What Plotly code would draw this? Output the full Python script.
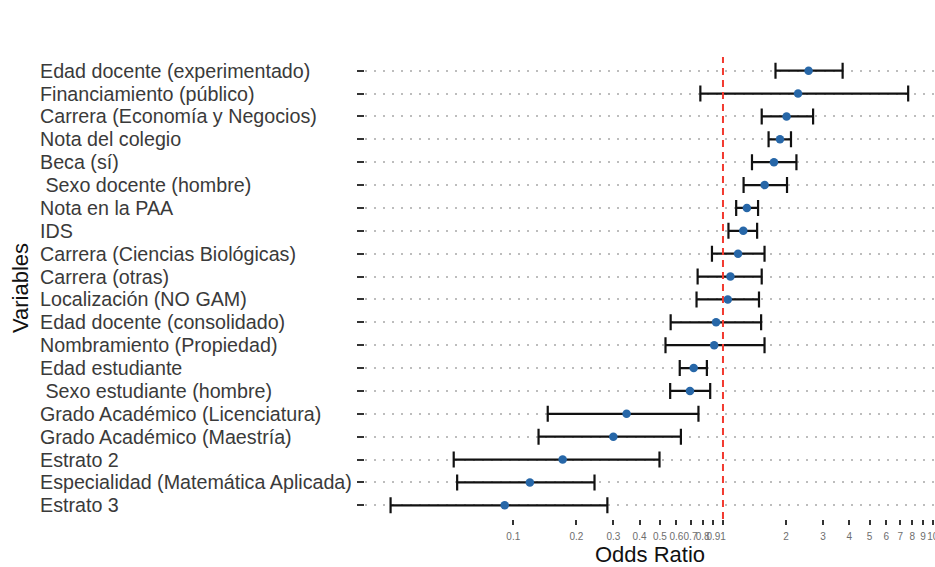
import plotly.graph_objects as go

# Predictors, ordered from top to bottom of the forest plot
variables = [
    "Edad docente (experimentado)",
    "Financiamiento (público)",
    "Carrera (Economía y Negocios)",
    "Nota del colegio",
    "Beca (sí)",
    "\u00a0Sexo docente (hombre)",
    "Nota en la PAA",
    "IDS",
    "Carrera (Ciencias Biológicas)",
    "Carrera (otras)",
    "Localización (NO GAM)",
    "Edad docente (consolidado)",
    "Nombramiento (Propiedad)",
    "Edad estudiante",
    "\u00a0Sexo estudiante (hombre)",
    "Grado Académico (Licenciatura)",
    "Grado Académico (Maestría)",
    "Estrato 2",
    "Especialidad (Matemática Aplicada)",
    "Estrato 3",
]

odds_ratio = [2.56, 2.28, 2.01, 1.87, 1.75, 1.58, 1.30, 1.25, 1.18, 1.085,
              1.054, 0.927, 0.908, 0.725, 0.696, 0.347, 0.300, 0.172, 0.120, 0.091]
ci_low = [1.78, 0.78, 1.53, 1.65, 1.375, 1.254, 1.156, 1.062, 0.886, 0.757,
          0.748, 0.563, 0.532, 0.622, 0.560, 0.146, 0.132, 0.052, 0.054, 0.026]
ci_high = [3.72, 7.64, 2.69, 2.11, 2.24, 2.02, 1.47, 1.455, 1.578, 1.53,
           1.485, 1.52, 1.578, 0.838, 0.869, 0.764, 0.630, 0.498, 0.244, 0.281]

x_tickvals = [0.1, 0.2, 0.3, 0.4, 0.5, 0.6, 0.7, 0.8, 0.9, 1, 2, 3, 4, 5, 6, 7, 8, 9, 10]
x_ticktext = ["0.1", "0.2", "0.3", "0.4", "0.5", "0.6", "0.7", "0.8", "0.9", "1",
              "2", "3", "4", "5", "6", "7", "8", "9", "10"]

FONT = "Liberation Sans, Arial, Helvetica, sans-serif"

err_plus = [h - o for h, o in zip(ci_high, odds_ratio)]
err_minus = [o - l for o, l in zip(odds_ratio, ci_low)]

fig = go.Figure()
fig.add_trace(go.Scatter(
    x=odds_ratio,
    y=variables,
    mode="markers",
    marker=dict(color="#2767a8", size=8.5, line=dict(width=0)),
    error_x=dict(
        type="data",
        symmetric=False,
        array=err_plus,
        arrayminus=err_minus,
        color="#111111",
        thickness=2.2,
        width=8,
    ),
    showlegend=False,
    cliponaxis=False,
))

# Reference line at OR = 1
fig.add_shape(
    type="line", xref="x", yref="paper",
    x0=1, x1=1, y0=0, y1=1,
    line=dict(color="#f23a2f", width=2, dash="7px,5px"),
    layer="above",
)

# Left-aligned category labels
for v in variables:
    fig.add_annotation(
        x=0, xref="paper", xshift=-327, xanchor="left",
        y=v, yref="y", yanchor="middle",
        text=v, showarrow=False,
        font=dict(family=FONT, size=19.7, color="#3a3a3a"),
    )

fig.update_layout(
    width=935, height=567,
    margin=dict(l=365, r=0, t=57, b=48),
    paper_bgcolor="white",
    plot_bgcolor="white",
    font=dict(family=FONT),
)

fig.update_xaxes(
    type="log",
    range=[-1.707, 1.011],
    automargin=False,
    tickvals=x_tickvals,
    ticktext=x_ticktext,
    tickangle=0,
    ticklabeloverflow="allow",
    ticks="outside", ticklen=5, tickwidth=1.5, tickcolor="#333333",
    tickfont=dict(family=FONT, size=10, color="#6e6e6e"),
    ticklabelstandoff=3,
    showgrid=False, zeroline=False, showline=False,
    title=dict(text="Odds Ratio", font=dict(family=FONT, size=22, color="#111111"), standoff=1),
)

fig.update_yaxes(
    type="category",
    categoryorder="array",
    categoryarray=variables,
    range=[len(variables) - 0.4, -0.6],
    automargin=False,
    showticklabels=False,
    ticks="outside", ticklen=7, tickwidth=1.5, tickcolor="#333333",
    showgrid=True, gridcolor="#bdbdbd", gridwidth=1.5, griddash="1.5px,7.5px",
    zeroline=False, showline=False,
    title=dict(text="Variables", font=dict(family=FONT, size=22, color="#111111"), standoff=322),
)

fig.write_html("out.html")
